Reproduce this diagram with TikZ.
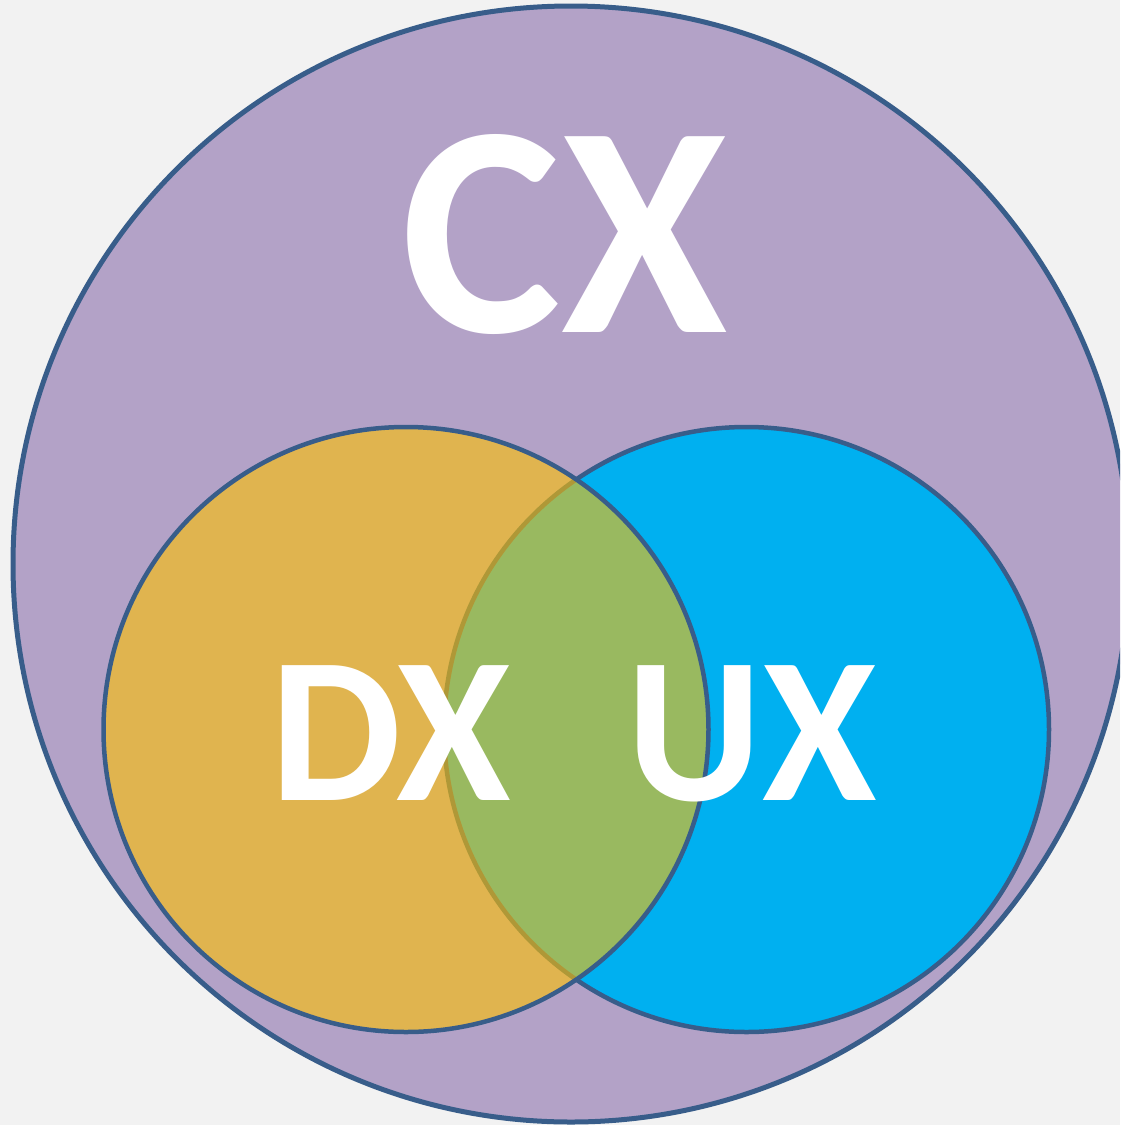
\documentclass[tikz,border=0pt]{standalone}
\usepackage{fontspec}
\setmainfont{Carlito}
\definecolor{bgc}{HTML}{F2F2F2}
\definecolor{purp}{HTML}{B3A2C7}
\definecolor{edgec}{HTML}{385D8A}
\definecolor{gold}{HTML}{FFC000}
\definecolor{skyb}{HTML}{00B0F0}
\begin{document}
\begin{tikzpicture}[x=1pt,y=-1pt,
  ring/.style={draw=edgec,line width=4.5pt},
  biglabel/.style={text=white,font=\bfseries\fontsize{302}{302}\selectfont,inner sep=0pt,anchor=base},
  midlabel/.style={text=white,font=\bfseries\fontsize{208}{208}\selectfont,inner sep=0pt,anchor=base}]
\fill[bgc] (0,0) rectangle (1120,1125);
\useasboundingbox (0,0) rectangle (1120,1125);
\begin{scope}
\clip (0,0) rectangle (1120,1125);
\draw[ring,fill=purp,line width=5pt] (571,564) circle[radius=558];
\end{scope}
\draw[ring,fill=skyb] (746.5,729.5) circle[radius=302.5];
\draw[ring,fill=gold,fill opacity=0.6] (406,729.5) circle[radius=302.5];
\node[biglabel] (cx) at (565,332) {CX};
\node[midlabel] (dx) at (390.5,800) {DX};
\node[midlabel] (ux) at (751.5,800) {UX};
\end{tikzpicture}
\end{document}
